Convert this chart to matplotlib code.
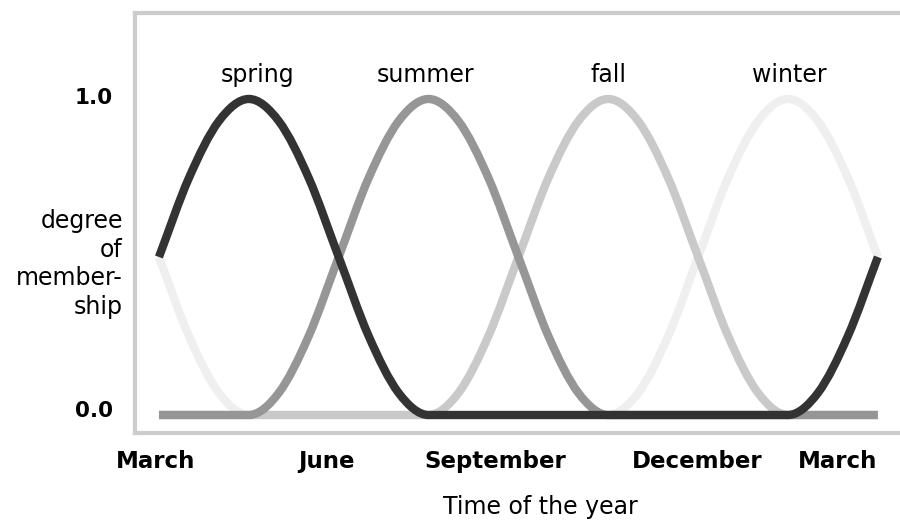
import matplotlib.pyplot as plt
import numpy as np
from matplotlib.path import Path
from matplotlib.patches import PathPatch

# months after March, in half-month steps (0 = March, 12 = next March)
months = [0, 0.5, 1, 1.5, 2, 2.5, 3, 3.5, 4, 4.5, 5, 5.5, 6, 6.5, 7, 7.5,
          8, 8.5, 9, 9.5, 10, 10.5, 11, 11.5, 12]

# degree of membership
spring = [0.5, 0.75, 0.93, 1.0, 0.93, 0.75, 0.5, 0.25, 0.07, 0, 0, 0, 0,
          0, 0, 0, 0, 0, 0, 0, 0, 0, 0.07, 0.25, 0.5]
summer = [0, 0, 0, 0, 0.07, 0.25, 0.5, 0.75, 0.93, 1.0, 0.93, 0.75, 0.5,
          0.25, 0.07, 0, 0, 0, 0, 0, 0, 0, 0, 0, 0]
fall = [0, 0, 0, 0, 0, 0, 0, 0, 0, 0, 0.07, 0.25, 0.5, 0.75, 0.93, 1.0,
        0.93, 0.75, 0.5, 0.25, 0.07, 0, 0, 0, 0]
winter = [0.5, 0.25, 0.07, 0, 0, 0, 0, 0, 0, 0, 0, 0, 0, 0, 0, 0, 0.07,
          0.25, 0.5, 0.75, 0.93, 1.0, 0.93, 0.75, 0.5]

season_names = ['spring', 'summer', 'fall', 'winter']
season_label_x = [1.64, 4.45, 7.5, 10.53]

xtick_pos = [-0.05, 2.79, 5.62, 8.98, 11.33]
xtick_labels = ['March', 'June', 'September', 'December', 'March']
ytick_pos = [0.019, 1.01]
ytick_labels = ['0.0', '1.0']


def smooth_path(x, y):
    # cubic bezier through the points; tangents are the mean of the
    # neighbouring slopes, flat at turning points so nothing overshoots
    x = np.asarray(x, float)
    y = np.asarray(y, float)
    d = np.diff(y) / np.diff(x)
    m = np.zeros(len(y))
    for k in range(1, len(y) - 1):
        if d[k - 1] * d[k] > 0:
            m[k] = (d[k - 1] + d[k]) / 2
    m[0] = d[0]
    m[-1] = d[-1]
    verts = [(x[0], y[0])]
    codes = [Path.MOVETO]
    for i in range(len(x) - 1):
        h = x[i + 1] - x[i]
        verts += [(x[i] + h / 3, y[i] + m[i] * h / 3),
                  (x[i + 1] - h / 3, y[i + 1] - m[i + 1] * h / 3),
                  (x[i + 1], y[i + 1])]
        codes += [Path.CURVE4] * 3
    return Path(verts, codes)


fig = plt.figure(figsize=(9, 5.25), dpi=100)
ax = fig.add_axes([0.15, 0.1752, 0.87, 0.8])

series = [(winter, '#efefef', 1), (fall, '#c9c9c9', 2),
          (summer, '#969696', 3), (spring, '#333333', 4)]
for vals, col, z in series:
    patch = PathPatch(smooth_path(months, vals), fill=False, edgecolor=col,
                      lw=6, capstyle='butt', joinstyle='round', zorder=z)
    ax.add_patch(patch)

ax.set_xlim(-0.40, 12.67)
ax.set_ylim(-0.057, 1.272)

for name, lx in zip(season_names, season_label_x):
    ax.text(lx, 1.054, name, ha='center', va='baseline', fontsize=17)

ax.set_xticks(xtick_pos, xtick_labels, fontsize=16.5, fontweight='bold')
ax.set_yticks(ytick_pos, ytick_labels, fontsize=15.5, fontweight='bold')
ax.tick_params(axis='x', length=0, pad=12)
ax.tick_params(axis='y', length=0, pad=16)

for s in ax.spines.values():
    s.set_color('#cccccc')
    s.set_linewidth(3)
ax.spines['right'].set_visible(False)

fig.text(123 / 900, 1 - 264 / 525, 'degree\nof\nmember-\nship', ha='right',
         va='center', multialignment='right', fontsize=17, linespacing=1.25)
fig.text(540 / 900, 1 - 507 / 525, 'Time of the year', ha='center',
         va='center', fontsize=17)

fig.savefig('out.png', dpi=100)
